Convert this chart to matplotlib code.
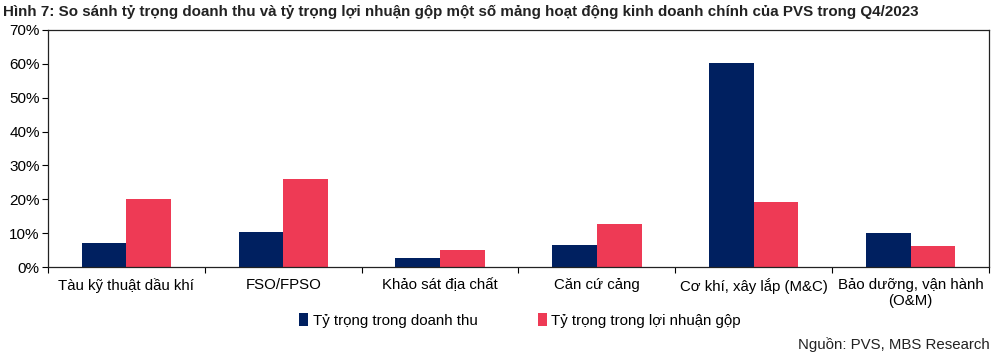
import matplotlib
matplotlib.use("Agg")
import matplotlib.pyplot as plt
import numpy as np
from matplotlib.ticker import FuncFormatter

plt.rcParams['font.family'] = ['Liberation Sans', 'DejaVu Sans']

# data (percent)
categories = ["Tàu kỹ thuật dầu khí", "FSO/FPSO", "Khảo sát địa chất",
              "Căn cứ cảng", "Cơ khí, xây lắp (M&C)", "Bảo dưỡng, vận hành\n(O&M)"]
revenue_share = [7.2, 10.4, 2.7, 6.5, 60.1, 10.1]
profit_share = [20.1, 26.0, 5.0, 12.7, 19.3, 6.2]
series_names = ["Tỷ trọng trong doanh thu", "Tỷ trọng trong lợi nhuận gộp"]

navy = "#002060"
red = "#EE3A55"

fig = plt.figure(figsize=(10, 3.6), dpi=100)
ax = fig.add_axes([0.048, 0.258, 0.941, 0.659])

x = np.arange(len(categories))
w = 0.285
ax.bar(x - w / 2, revenue_share, w, color=navy, label=series_names[0])
ax.bar(x + w / 2, profit_share, w, color=red, label=series_names[1])

ax.set_xlim(-0.5, len(categories) - 0.5)
ax.set_ylim(0, 70)
ax.set_yticks(range(0, 71, 10))
ax.yaxis.set_major_formatter(FuncFormatter(lambda v, p: f"{v:.0f}%"))
ax.set_xticks(x)
ax.set_xticklabels(categories, fontsize=10.8)
ax.set_xticks(np.arange(-0.5, len(categories), 1), minor=True)
ax.tick_params(axis='x', which='major', length=0, pad=8)
ax.tick_params(axis='x', which='minor', length=4, direction='out', width=0.8)
ax.tick_params(axis='y', labelsize=11, length=4, width=0.8, pad=2)
for s in ax.spines.values():
    s.set_linewidth(0.9)
    s.set_color("#222222")

fig.text(0.003, 0.985, "Hình 7: So sánh tỷ trọng doanh thu và tỷ trọng lợi nhuận gộp một số mảng hoạt động kinh doanh chính của PVS trong Q4/2023",
         fontsize=10.9, fontweight='bold', va='top', ha='left', color="#222222")

fig.legend(loc='center', bbox_to_anchor=(0.52, 0.11), ncol=2, frameon=False,
           fontsize=10.8, handlelength=0.6, handleheight=0.9, handletextpad=0.3,
           columnspacing=4.0)

fig.text(0.99, 0.022, "Nguồn: PVS, MBS Research", fontsize=10.8, ha='right', va='bottom',
         color="#222222")

fig.savefig("out.png", dpi=100)
